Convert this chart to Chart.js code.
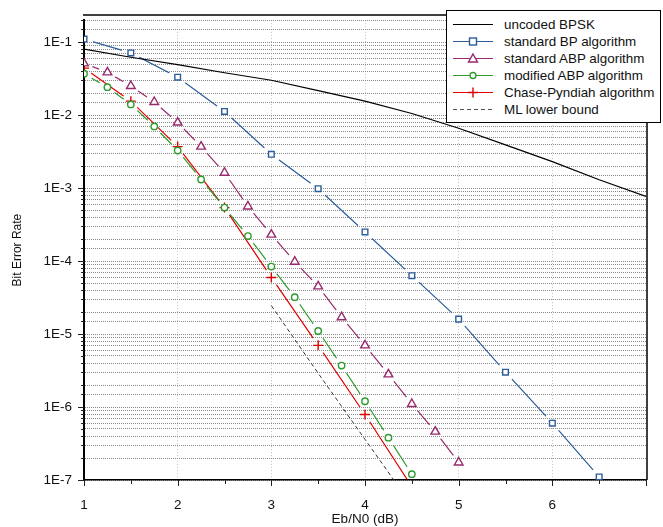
<!DOCTYPE html>
<html>
<head>
<meta charset="utf-8">
<script src="https://cdn.jsdelivr.net/npm/chart.js@4/dist/chart.umd.min.js"></script>
<style>
  body { margin: 0; background: #fff; }
  #wrap { position: relative; width: 663px; height: 527px; }
  #legend {
    position: absolute; left: 446px; top: 10px; width: 213px; height: 106px;
    background: #fff; border: 1px solid #000; padding-top: 5px; box-sizing: content-box;
    font-family: "Liberation Sans", Arial, sans-serif; font-size: 13.4px; color: #111;
  }
  #legend div { height: 17px; display: flex; align-items: center; }
  #legend svg { margin-left: 6px; margin-right: 11px; flex: none; }
</style>
</head>
<body>
<div id="wrap">
  <canvas id="berChart" width="663" height="527"></canvas>
  <div id="legend"></div>
</div>
<script>
// Eb/N0 grids (dB)
const ebnoHalf = [1, 1.5, 2, 2.5, 3, 3.5, 4, 4.5, 5, 5.5, 6, 6.5, 7];
const ebnoQuarter = [1, 1.25, 1.5, 1.75, 2, 2.25, 2.5, 2.75, 3, 3.25, 3.5, 3.75, 4, 4.25, 4.5, 4.75, 5];
const ebnoML = [3, 3.5, 4, 4.5];

// bit error rates
const uncodedBPSK = [0.080, 0.062, 0.049, 0.038, 0.030, 0.0216, 0.0155, 0.0105, 0.0066, 0.0039, 0.0023, 0.0013, 0.00077];
const standardBP = [0.11, 0.071, 0.033, 0.0112, 0.0029, 9.8e-4, 2.5e-4, 6.3e-5, 1.6e-5, 3.0e-6, 6.0e-7, 1.1e-7];
const standardABP = [0.051, 0.0384, 0.025, 0.0151, 0.0079, 0.0037, 0.00162, 5.6e-4, 2.3e-4, 9.8e-5, 4.5e-5, 1.7e-5, 7.0e-6, 2.8e-6, 1.1e-6, 4.6e-7, 1.74e-7];
const modifiedABP = [0.0368, 0.0241, 0.0140, 0.00698, 0.00327, 0.00131, 5.4e-4, 2.2e-4, 8.4e-5, 3.2e-5, 1.1e-5, 3.7e-6, 1.2e-6, 3.8e-7, 1.2e-7];
const chasePyndiah = [0.044, 0.0155, 0.0037, 5.4e-4, 5.96e-5, 7.0e-6, 7.9e-7, 8.1e-8];
const mlBound = [2.45e-5, 2.9e-6, 3.6e-7, 4.5e-8];

const yTickLabels = ['1E-7', '1E-6', '1E-5', '1E-4', '1E-3', '1E-2', '1E-1'];
const xTickLabels = ['1', '2', '3', '4', '5', '6'];

const FONT = '"Liberation Sans", Arial, sans-serif';
const colors = {
  bpsk: '#000000',
  bp: '#2b5d9b',
  abp: '#962a6c',
  mod: '#2e9c2e',
  chase: '#e00000',
  ml: '#333333'
};

function pts(xs, ys) {
  return ys.map((y, i) => ({ x: xs[i], y: y }));
}

// a series = a line dataset (with gaps round the markers) + a marker-only dataset
function series(label, xs, ys, color, style, radius, gap) {
  const data = pts(xs, ys);
  return [
    {
      label: label,
      data: data,
      borderColor: color,
      borderWidth: 1.2,
      pointRadius: 0,
      gapRadius: gap
    },
    {
      label: label + ' markers',
      data: data,
      showLine: false,
      borderColor: color,
      pointStyle: style,
      pointRadius: ys.map(v => v < 1e-7 ? 0 : radius),
      pointBorderWidth: 1.4,
      pointBorderColor: color,
      pointBackgroundColor: '#fff'
    }
  ];
}

// Origin-style gaps: clip the line away round each data point
const markerGaps = {
  id: 'markerGaps',
  beforeDatasetDraw(chart, args) {
    const ds = chart.data.datasets[args.index];
    if (!ds.gapRadius) return;
    const { ctx, chartArea: ca, scales } = chart;
    const r = ds.gapRadius;
    ctx.save();
    ctx.beginPath();
    ctx.moveTo(ca.left - 10, ca.top - 10);
    ctx.lineTo(ca.right + 10, ca.top - 10);
    ctx.lineTo(ca.right + 10, ca.bottom + 10);
    ctx.lineTo(ca.left - 10, ca.bottom + 10);
    ctx.closePath();
    ds.data.forEach(d => {
      const px = scales.x.getPixelForValue(d.x);
      const py = scales.y.getPixelForValue(d.y);
      ctx.moveTo(px + r, py);
      ctx.arc(px, py, r, 0, Math.PI * 2, true);
      ctx.closePath();
    });
    ctx.clip();
  },
  afterDatasetDraw(chart, args) {
    const ds = chart.data.datasets[args.index];
    if (ds.gapRadius) chart.ctx.restore();
  }
};

function isPow10(v) {
  const l = Math.log10(v);
  return Math.abs(l - Math.round(l)) < 1e-6;
}

const axisDecor = {
  id: 'axisDecor',
  afterDraw(chart) {
    const { ctx, chartArea: ca, scales } = chart;
    ctx.save();
    ctx.strokeStyle = '#222';
    ctx.lineWidth = 1;
    ctx.beginPath();
    scales.y.ticks.forEach(t => {
      const py = Math.round(scales.y.getPixelForValue(t.value)) + 0.5;
      const len = isPow10(t.value) ? 6 : 3;
      ctx.moveTo(ca.left - len, py);
      ctx.lineTo(ca.left, py);
    });
    scales.x.ticks.forEach(t => {
      const px = Math.round(scales.x.getPixelForValue(t.value)) + 0.5;
      const len = Number.isInteger(t.value) ? 6 : 4;
      ctx.moveTo(px, ca.bottom);
      ctx.lineTo(px, ca.bottom + len);
    });
    ctx.stroke();
    // frame top and right
    ctx.strokeStyle = '#000';
    ctx.lineWidth = 1.5;
    ctx.beginPath();
    ctx.moveTo(ca.left - 1, ca.top - 5);
    ctx.lineTo(ca.right + 1, ca.top - 5);
    ctx.lineTo(ca.right + 1, ca.bottom);
    ctx.stroke();
    ctx.restore();
  }
};

const berChart = document.getElementById('berChart');

new Chart(berChart, {
  type: 'line',
  data: {
    datasets: [
      {
        label: 'uncoded BPSK',
        data: pts(ebnoHalf, uncodedBPSK),
        borderColor: colors.bpsk,
        borderWidth: 1.2,
        pointRadius: 0
      },
      ...series('standard BP algorithm', ebnoHalf, standardBP, colors.bp, 'rect', 4, 9.5),
      ...series('standard ABP algorithm', ebnoQuarter, standardABP, colors.abp, 'triangle', 5, 9),
      ...series('modified ABP algorithm', ebnoQuarter, modifiedABP, colors.mod, 'circle', 3.2, 9),
      ...series('Chase-Pyndiah algorithm', ebnoHalf, chasePyndiah, colors.chase, 'cross', 5, 9),
      {
        label: 'ML lower bound',
        data: pts(ebnoML, mlBound),
        borderColor: colors.ml,
        borderWidth: 1,
        borderDash: [4, 3],
        pointRadius: 0
      }
    ]
  },
  options: {
    responsive: false,
    animation: false,
    layout: { padding: { top: 15, right: 2, left: 0, bottom: 0 } },
    plugins: {
      legend: { display: false },
      tooltip: { enabled: false }
    },
    scales: {
      x: {
        type: 'linear',
        min: 1,
        max: 7,
        afterFit: s => { s.height = 47; },
        ticks: {
          stepSize: 0.5,
          autoSkip: false,
          maxRotation: 0,
          padding: 17,
          color: '#111',
          font: { family: FONT, size: 13.5 },
          callback: v => xTickLabels.includes(String(v)) ? String(v) : ''
        },
        grid: {
          drawTicks: false,
          color: ctx => (ctx.tick && Number.isInteger(ctx.tick.value) && ctx.tick.value > 1 && ctx.tick.value < 7) ? '#c4c4c4' : 'rgba(0,0,0,0)',
          lineWidth: 1
        },
        border: { color: '#000', width: 1.5, dash: [1, 2] },
        title: {
          display: true,
          text: 'Eb/N0 (dB)',
          color: '#111',
          font: { family: FONT, size: 13.5 },
          padding: { top: 0, bottom: 0 }
        }
      },
      y: {
        type: 'logarithmic',
        min: 1e-7,
        max: 0.2,
        afterFit: s => { s.width = 84; },
        ticks: {
          autoSkip: false,
          padding: 12,
          color: '#111',
          font: { family: FONT, size: 13.5 },
          callback: v => {
            if (!isPow10(v)) return '';
            const lbl = '1E' + Math.round(Math.log10(v));
            return yTickLabels.includes(lbl) ? lbl : '';
          }
        },
        grid: {
          drawTicks: false,
          color: '#8a8a8a',
          lineWidth: 1
        },
        border: { color: '#000', width: 2, dash: [1, 1] },
        title: {
          display: true,
          text: 'Bit Error Rate',
          color: '#111',
          font: { family: FONT, size: 12 },
          padding: { top: 10, bottom: 0 }
        }
      }
    }
  },
  plugins: [markerGaps, axisDecor]
});

// legend drawn as html over the plot (opaque box like the original)
const legendItems = [
  { label: 'uncoded BPSK', color: colors.bpsk, marker: null, dash: '' },
  { label: 'standard BP algorithm', color: colors.bp, marker: 'rect', dash: '' },
  { label: 'standard ABP algorithm', color: colors.abp, marker: 'triangle', dash: '' },
  { label: 'modified ABP algorithm', color: colors.mod, marker: 'circle', dash: '' },
  { label: 'Chase-Pyndiah algorithm', color: colors.chase, marker: 'cross', dash: '' },
  { label: 'ML lower bound', color: '#555', marker: null, dash: '4 3' }
];

function markerSvg(m, c) {
  if (m === 'rect') return `<rect x="16.5" y="5" width="7" height="7" fill="#fff" stroke="${c}" stroke-width="1.4"/>`;
  if (m === 'triangle') return `<polygon points="20,4 24.5,12 15.5,12" fill="#fff" stroke="${c}" stroke-width="1.4"/>`;
  if (m === 'circle') return `<circle cx="20" cy="8.5" r="3" fill="#fff" stroke="${c}" stroke-width="1.3"/>`;
  if (m === 'cross') return `<path d="M20 3.5V13.5M15 8.5H25" stroke="${c}" stroke-width="1.4"/>`;
  return '';
}

document.getElementById('legend').innerHTML = legendItems.map(it =>
  `<div><svg width="40" height="17"><line x1="0" y1="8.5" x2="40" y2="8.5" stroke="${it.color}" stroke-width="1.2"${it.dash ? ` stroke-dasharray="${it.dash}"` : ''}/>${markerSvg(it.marker, it.color)}</svg><span>${it.label}</span></div>`
).join('');
</script>
</body>
</html>
